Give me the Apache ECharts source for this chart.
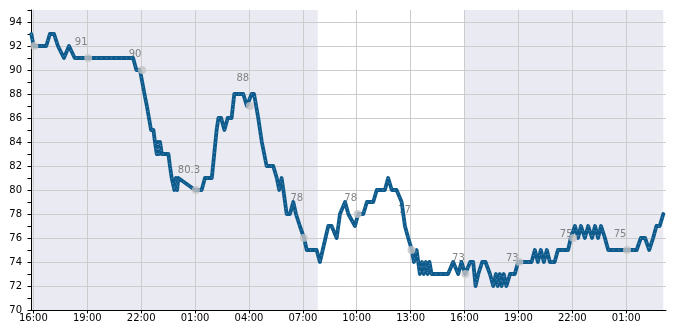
<!DOCTYPE html>
<html><head><meta charset="utf-8">
<script src="https://cdn.jsdelivr.net/npm/echarts@6/dist/echarts.min.js"></script>
<style>html,body{margin:0;padding:0;background:#fff}#c{width:685px;height:330px}</style>
</head><body><div id="c"></div>
<script>
// Temperature readings (time, value)
const times = [
'07-01 15:53','07-01 16:01','07-01 16:43','07-01 16:55','07-01 17:09','07-01 17:22','07-01 17:42','07-01 17:59','07-01 18:18',
'07-01 21:33','07-01 21:44','07-01 21:56','07-01 22:11','07-01 22:19','07-01 22:26','07-01 22:33','07-01 22:41','07-01 22:46',
'07-01 22:52','07-01 22:56','07-01 22:59','07-01 23:03','07-01 23:09','07-01 23:31','07-01 23:36','07-01 23:42','07-01 23:51',
'07-01 23:56','07-02 00:00','07-02 00:04','07-02 01:00','07-02 01:22','07-02 01:33','07-02 01:56','07-02 02:04','07-02 02:12',
'07-02 02:18','07-02 02:27','07-02 02:38','07-02 02:49','07-02 03:02','07-02 03:11','07-02 03:41','07-02 03:53','07-02 04:09',
'07-02 04:17','07-02 04:31','07-02 04:43','07-02 04:59','07-02 05:21','07-02 05:33','07-02 05:41','07-02 05:49','07-02 05:55',
'07-02 06:06','07-02 06:17','07-02 06:28','07-02 06:37','07-02 06:50','07-02 07:04','07-02 07:13','07-02 07:46','07-02 07:57',
'07-02 08:25','07-02 08:36','07-02 08:53','07-02 09:04','07-02 09:21','07-02 09:32','07-02 09:54','07-02 10:05','07-02 10:22',
'07-02 10:34','07-02 10:55','07-02 11:07','07-02 11:34','07-02 11:45','07-02 11:57','07-02 12:13','07-02 12:30','07-02 12:41',
'07-02 12:52','07-02 13:04','07-02 13:11','07-02 13:20','07-02 13:31','07-02 13:38','07-02 13:44','07-02 13:51','07-02 13:57',
'07-02 14:03','07-02 14:10','07-02 15:05','07-02 15:22','07-02 15:39','07-02 15:50','07-02 16:02','07-02 16:19','07-02 16:29',
'07-02 16:37','07-02 16:46','07-02 16:59','07-02 17:10','07-02 17:25','07-02 17:36','07-02 17:45','07-02 17:51','07-02 17:58',
'07-02 18:04','07-02 18:11','07-02 18:20','07-02 18:32','07-02 18:48','07-02 18:59','07-02 19:44','07-02 19:55','07-02 20:05',
'07-02 20:15','07-02 20:25','07-02 20:35','07-02 20:45','07-02 21:01','07-02 21:12','07-02 21:46','07-02 21:55','07-02 22:09',
'07-02 22:19','07-02 22:29','07-02 22:42','07-02 22:53','07-02 23:06','07-02 23:16','07-02 23:26','07-02 23:36','07-02 23:49',
'07-03 00:00','07-03 01:35','07-03 01:49','07-03 02:03','07-03 02:17','07-03 02:30','07-03 02:41','07-03 02:52','07-03 03:04'
];
const temps = [
93,92,92,93,93,92,91,92,91,
91,90,90,88,87,86,85,85,84,
83,84,83,84,83,83,82,81,80,
81,80,81,80,80,81,81,83,85,
86,86,85,86,86,88,88,87,88,
88,86,84,82,82,81,80,81,80,
78,78,79,78,77,76,75,75,74,
77,77,76,78,79,78,77,78,78,
79,79,80,80,81,80,80,79,77,
76,75,74,75,73,74,73,74,73,
74,73,73,74,73,74,73,74,74,
72,73,74,74,73,72,73,72,73,
72,73,72,73,73,74,74,75,74,
75,74,75,74,74,75,75,76,77,
76,77,76,77,76,77,76,77,76,
75,75,76,76,75,76,77,77,78
];
// 3-hourly check points (grey dots)
const markTimes = ['07-01 16:03','07-01 19:03','07-01 22:03','07-02 01:03','07-02 04:03','07-02 07:03',
                   '07-02 10:03','07-02 13:03','07-02 16:03','07-02 19:03','07-02 22:03','07-03 01:03'];
const markTemps = [92,91,90,80,87,76,78,75,73,74,76,75];
// annotation texts
const noteTimes = ['07-01 19:03','07-01 22:03','07-02 01:03','07-02 04:03','07-02 07:03',
                   '07-02 10:03','07-02 13:03','07-02 16:03','07-02 19:03','07-02 22:03','07-03 01:03'];
const noteValues = [91,90,80.3,88,78,78,77,73,73,75,75];
const noteTexts = ['91','90','80.3','88','78','78','77','73','73','75','75'];
// axis ticks
const xTickTimes = ['07-01 16:00','07-01 19:00','07-01 22:00','07-02 01:00','07-02 04:00','07-02 07:00',
                    '07-02 10:00','07-02 13:00','07-02 16:00','07-02 19:00','07-02 22:00','07-03 01:00'];
const xTickLabels = ['16:00','19:00','22:00','01:00','04:00','07:00','10:00','13:00','16:00','19:00','22:00','01:00'];
const yTicks = [70,72,74,76,78,80,82,84,86,88,90,92,94];
const xRange = ['07-01 15:52','07-03 03:13'];
const shadeRanges = [['07-01 15:52','07-02 07:50'],['07-02 16:00','07-03 03:04']];

function ts(s){
  const [md, hm] = s.split(' ');
  const [mo, d] = md.split('-').map(Number);
  const [h, m] = hm.split(':').map(Number);
  return new Date(2024, mo - 1, d, h, m).getTime();
}
const lineData = times.map((t, i) => [ts(t), temps[i]]);
const markData = markTimes.map((t, i) => [ts(t), markTemps[i]]);
const noteData = noteTimes.map((t, i) => [ts(t), noteValues[i]]);
const xTickTs = xTickTimes.map(ts);
const font = 'DejaVu Sans';

const chart = echarts.init(document.getElementById('c'), null, {renderer: 'canvas'});
chart.setOption({
  animation: false,
  backgroundColor: '#ffffff',
  grid: {left: 31, right: 19, top: 10, bottom: 20, containLabel: false, outerBoundsMode: 'none'},
  xAxis: {
    type: 'value', min: ts(xRange[0]), max: ts(xRange[1]), z: 3,
    axisLine: {show: true, lineStyle: {color: '#000', width: 1}},
    axisTick: {show: true, inside: false, length: 3.5, lineStyle: {color: '#000'}, customValues: xTickTs},
    axisLabel: {customValues: xTickTs, margin: 3, color: '#000', fontFamily: font, fontSize: 10,
      formatter: v => { const i = xTickTs.indexOf(v); return i >= 0 ? xTickLabels[i] : ''; }},
    splitLine: {show: true, lineStyle: {color: '#cccccc', width: 1}}
  },
  yAxis: [{
    type: 'value', min: 70, max: 95, z: 3,
    axisLine: {show: true, lineStyle: {color: '#000', width: 1}},
    axisTick: {show: false, customValues: yTicks},
    axisLabel: {customValues: yTicks, margin: 9, color: '#000', fontFamily: font, fontSize: 10},
    splitLine: {show: true, lineStyle: {color: '#cccccc', width: 1}}
  }, {
    type: 'value', min: 70, max: 95, interval: 1, position: 'left', z: 3,
    axisLine: {show: false}, axisLabel: {show: false}, splitLine: {show: false},
    axisTick: {show: true, inside: false, length: 3.5, lineStyle: {color: '#000'}}
  }],
  series: [
    {
      type: 'line', data: [], z: 1, silent: true,
      markArea: {silent: true, itemStyle: {color: '#eaeaf2'},
        data: shadeRanges.map(r => [{xAxis: ts(r[0])}, {xAxis: ts(r[1])}])}
    },
    {
      type: 'scatter', data: noteData, z: 4, symbolSize: 1, itemStyle: {color: 'rgba(0,0,0,0)'},
      label: {show: true, position: 'inside', offset: [-7, -16], color: '#666', fontFamily: font, fontSize: 10,
        formatter: p => noteTexts[p.dataIndex]}
    },
    {
      type: 'line', data: lineData, z: 5, showSymbol: false, symbol: 'none',
      lineStyle: {color: '#0d5a8c', width: 3.8, join: 'round', cap: 'round'}
    },
    {
      type: 'line', data: lineData, z: 6, showSymbol: false, symbol: 'none',
      lineStyle: {color: '#ffffff', width: 0.8, type: [1, 4], opacity: 0.45}
    },
    {
      type: 'scatter', data: markData, z: 7, symbolSize: 8, itemStyle: {color: '#c4c4c4'}
    }
  ]
});
</script></body></html>
